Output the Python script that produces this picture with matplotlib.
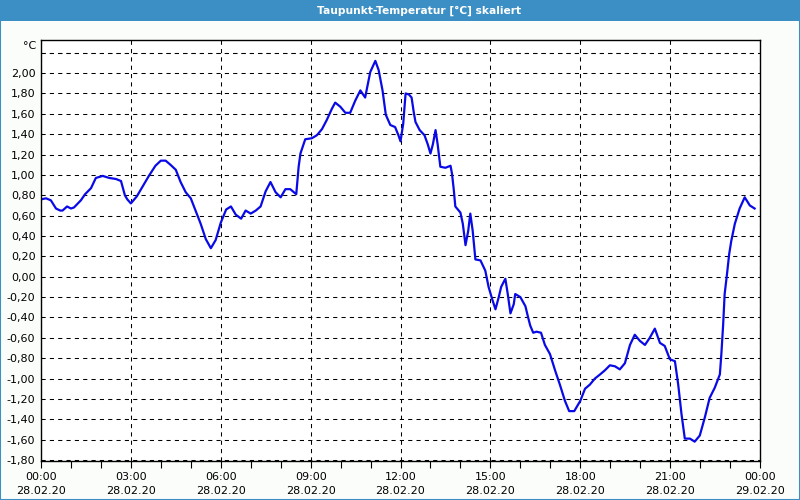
import matplotlib
matplotlib.use("Agg")
import matplotlib.pyplot as plt
import matplotlib.patches as patches
from matplotlib.ticker import FixedLocator, MultipleLocator

# hours since 28.02.20 00:00 and dew point values
hours = [0.0, 0.17, 0.33, 0.5, 0.64, 0.72, 0.87, 1.0, 1.1, 1.33, 1.47, 1.67, 1.83,
         2.06, 2.28, 2.5, 2.67, 2.8, 2.88, 3.0, 3.2, 3.38, 3.6, 3.82, 4.0, 4.16,
         4.32, 4.5, 4.66, 4.83, 5.0, 5.16, 5.33, 5.5, 5.67, 5.83, 6.0, 6.18, 6.34,
         6.5, 6.68, 6.83, 7.0, 7.17, 7.33, 7.5, 7.66, 7.83, 8.0, 8.16, 8.32, 8.52,
         8.6, 8.66, 8.82, 9.04, 9.21, 9.38, 9.54, 9.71, 9.82, 9.99, 10.16, 10.32,
         10.49, 10.66, 10.82, 10.99, 11.16, 11.27, 11.4, 11.51, 11.66, 11.82,
         11.93, 12.0, 12.09, 12.17, 12.28, 12.37, 12.44, 12.5, 12.64, 12.8, 12.91,
         13.0, 13.08, 13.17, 13.24, 13.33, 13.5, 13.67, 13.72, 13.78, 13.83, 14.0,
         14.08, 14.17, 14.26, 14.33, 14.41, 14.5, 14.67, 14.83, 14.94, 15.06,
         15.17, 15.28, 15.36, 15.5, 15.58, 15.67, 15.78, 15.83, 16.0, 16.17,
         16.26, 16.33, 16.43, 16.54, 16.69, 16.82, 16.99, 17.16, 17.32, 17.49,
         17.63, 17.8, 18.0, 18.16, 18.32, 18.49, 18.66, 18.82, 18.99, 19.16,
         19.32, 19.49, 19.66, 19.82, 19.99, 20.16, 20.32, 20.49, 20.66, 20.82,
         20.99, 21.16, 21.27, 21.38, 21.49, 21.66, 21.82, 21.99, 22.16, 22.32,
         22.49, 22.66, 22.71, 22.77, 22.82, 22.9, 22.97, 23.04, 23.16, 23.32,
         23.49, 23.66, 23.82]
taupunkt = [0.76, 0.77, 0.75, 0.67, 0.65, 0.65, 0.69, 0.67, 0.68, 0.75, 0.81, 0.87,
            0.97, 0.99, 0.97, 0.96, 0.94, 0.80, 0.76, 0.72, 0.79, 0.88, 0.99, 1.09,
            1.14, 1.14, 1.10, 1.05, 0.93, 0.83, 0.77, 0.65, 0.52, 0.37, 0.28, 0.36,
            0.53, 0.66, 0.69, 0.61, 0.57, 0.65, 0.62, 0.65, 0.69, 0.84, 0.93, 0.83,
            0.78, 0.86, 0.86, 0.81, 1.08, 1.21, 1.35, 1.36, 1.39, 1.45, 1.54, 1.65,
            1.71, 1.67, 1.61, 1.61, 1.73, 1.83, 1.76, 2.01, 2.12, 2.03, 1.83, 1.59,
            1.49, 1.47, 1.39, 1.33, 1.50, 1.80, 1.79, 1.76, 1.62, 1.52, 1.44, 1.39,
            1.30, 1.21, 1.30, 1.44, 1.30, 1.08, 1.07, 1.09, 1.01, 0.85, 0.69, 0.63,
            0.52, 0.31, 0.45, 0.62, 0.45, 0.17, 0.16, 0.06, -0.10, -0.22, -0.32,
            -0.20, -0.10, -0.02, -0.17, -0.36, -0.27, -0.17, -0.20, -0.29, -0.40,
            -0.48, -0.55, -0.54, -0.55, -0.67, -0.76, -0.92, -1.06, -1.22, -1.32,
            -1.32, -1.22, -1.10, -1.06, -1.00, -0.96, -0.92, -0.87, -0.88, -0.91,
            -0.85, -0.67, -0.57, -0.63, -0.67, -0.60, -0.51, -0.65, -0.68, -0.81,
            -0.83, -1.06, -1.35, -1.59, -1.59, -1.62, -1.56, -1.38, -1.19, -1.09,
            -0.96, -0.76, -0.47, -0.17, 0.03, 0.22, 0.35, 0.52, 0.67, 0.78, 0.70,
            0.67]

x_ticks = [0, 3, 6, 9, 12, 15, 18, 21, 24]
x_labels = ["00:00\n28.02.20", "03:00\n28.02.20", "06:00\n28.02.20",
            "09:00\n28.02.20", "12:00\n28.02.20", "15:00\n28.02.20",
            "18:00\n28.02.20", "21:00\n28.02.20", "00:00\n29.02.20"]
y_ticks = [round(-1.8 + 0.2 * i, 2) for i in range(21)]

bar_blue = "#3b8fc4"

fig = plt.figure(figsize=(8, 5), dpi=100)
fig.patch.set_facecolor("#fbfdfb")

# title bar and window frame
fig.add_artist(patches.Rectangle((0, 1 - 21 / 500), 1, 21 / 500, transform=fig.transFigure,
                                 facecolor=bar_blue, edgecolor="none"))
fig.add_artist(patches.Rectangle((0.0006, 0.001), 0.9988, 0.998, transform=fig.transFigure,
                                 facecolor="none", edgecolor=bar_blue, linewidth=1.5))
fig.text(0.524, 1 - 11 / 500, "Taupunkt-Temperatur [°C] skaliert", color="white",
         fontsize=7.7, fontweight="bold", ha="center", va="center")

ax = fig.add_axes([41 / 800, 1 - 461 / 500, 719 / 800, 421 / 500])
ax.set_facecolor("white")

ax.plot(hours, taupunkt, color="#0a0ae6", linewidth=1.6, solid_joinstyle="round")

ax.set_xlim(0, 24)
ax.set_ylim(-1.81, 2.325)

ax.xaxis.set_major_locator(FixedLocator(x_ticks))
ax.set_xticklabels(x_labels, fontsize=8, linespacing=1.45)
ax.xaxis.set_minor_locator(MultipleLocator(1))
ax.tick_params(axis="x", which="both", direction="out", length=5, width=0.8, pad=3)

ax.yaxis.set_major_locator(FixedLocator(y_ticks + [2.2]))
ax.set_yticklabels([("%.2f" % v).replace(".", ",") for v in y_ticks] + [""], fontsize=8)
ax.tick_params(axis="y", length=0, pad=4)
ax.text(-0.006, 2.27, "°C", transform=ax.get_yaxis_transform(), ha="right",
        va="center", fontsize=8)

ax.grid(True, which="major", color="black", linestyle=(0, (4, 4)), linewidth=0.75)

for s in ax.spines.values():
    s.set_color("black")
    s.set_linewidth(1)

plt.savefig("out.png", dpi=100, facecolor=fig.get_facecolor())
